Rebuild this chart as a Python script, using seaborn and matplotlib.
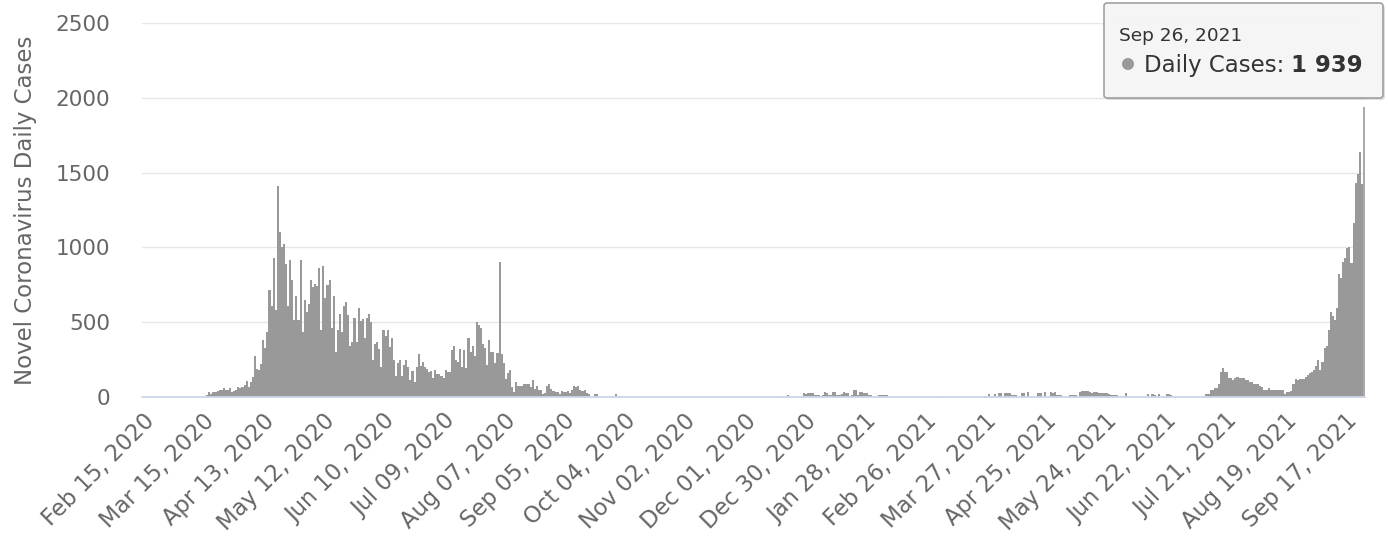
import numpy as np
import pandas as pd
import matplotlib
matplotlib.use('Agg')
import matplotlib.pyplot as plt
import seaborn as sns
from matplotlib.patches import FancyBboxPatch, Circle

# ── Daily cases, one list per month ────────────────────────────────────────
feb20 = [0, 0, 0, 0, 0, 0, 0, 0, 0, 0, 0, 0, 0, 0, 0]
mar20 = [0, 0, 0, 0, 0, 0, 0, 0, 0, 0, 0, 0, 0, 0, 0, 0,
         13, 31, 20, 33, 35, 40, 47, 45, 58, 47, 50, 60, 36, 38, 45]
apr20 = [69, 58, 69, 80, 109, 65, 102, 136, 274, 185, 180, 218, 381, 325, 432,
         715, 608, 931, 582, 1410, 1105, 1000, 1023, 889, 608, 916, 782, 515, 675, 515]
may20 = [916, 437, 648, 570, 622, 782, 733, 755, 742, 860, 448, 876, 664, 749, 782,
         459, 675, 303, 448, 555, 437, 608, 637, 548, 341, 370, 526, 370, 593, 510, 519]
jun20 = [392, 526, 555, 504, 247, 354, 370, 319, 203, 448, 408, 448, 336, 392, 247,
         140, 229, 247, 140, 214, 247, 203, 114, 176, 102, 203, 287, 207, 236, 203]
jul20 = [185, 169, 176, 125, 180, 154, 154, 140, 125, 180, 169, 166, 314, 341, 247,
         236, 319, 198, 314, 192, 392, 303, 341, 274, 503, 481, 461, 356, 327, 215, 383]
aug20 = [300, 298, 226, 293, 905, 289, 226, 119, 163, 181, 65, 36, 103, 74, 72,
         76, 87, 85, 88, 65, 114, 51, 74, 47, 45, 20, 30, 74, 87, 51, 42]
sep20 = [36, 34, 20, 42, 36, 35, 37, 29, 47, 74, 65, 74, 47, 42, 47,
         29, 20, 0, 0, 20, 20, 0, 0, 0, 0, 0, 0, 0, 0, 18]
oct20 = [0, 0, 0, 0, 0, 0, 0, 0, 0, 0, 0, 0, 0, 0, 0, 0,
         0, 0, 0, 0, 0, 0, 0, 0, 0, 0, 0, 0, 0, 0, 0]
nov20 = [0, 0, 0, 0, 0, 0, 0, 0, 0, 0, 0, 0, 0, 0, 0,
         0, 0, 0, 0, 0, 0, 0, 0, 0, 0, 0, 0, 0, 0, 0]
dec20 = [0, 0, 0, 0, 0, 0, 0, 0, 0, 0, 0, 0, 0, 0, 0, 0,
         10, 0, 0, 0, 0, 15, 0, 0, 0, 0, 0, 0, 0, 25, 22]
jan21 = [25, 24, 26, 15, 14, 16, 10, 12, 31, 29, 15, 14, 35, 33, 15, 16,
         20, 31, 25, 24, 10, 11, 47, 44, 15, 35, 33, 25, 24, 15, 14]
feb21 = [0, 0, 0, 15, 14, 16, 15, 13, 0, 0, 0, 0, 0, 0,
         0, 0, 0, 0, 0, 0, 0, 0, 0, 0, 0, 0, 0, 0]
mar21 = [0, 0, 0, 10, 0, 0, 0, 0, 0, 0, 0, 0, 0, 0, 0, 0,
         0, 0, 0, 0, 0, 0, 0, 0, 0, 0, 10, 0, 20, 0, 0]
apr21 = [20, 0, 25, 24, 0, 25, 26, 24, 15, 14, 16, 0, 0, 25, 24,
         0, 31, 0, 0, 0, 0, 25, 26, 0, 31, 0, 0, 31, 30, 32]
may21 = [15, 14, 16, 0, 0, 0, 15, 14, 16, 15, 0, 31, 42, 40, 43, 41,
         31, 30, 32, 31, 29, 25, 24, 26, 25, 23, 15, 14, 16, 15, 0]
jun21 = [0, 0, 25, 0, 0, 0, 0, 0, 0, 0, 0, 0, 0, 18, 0,
         18, 15, 0, 18, 0, 0, 0, 18, 18, 15, 0, 0, 0, 0, 0]
jul21 = [0, 0, 0, 0, 0, 0, 0, 0, 0, 0, 0, 20, 20, 47, 47, 62,
         60, 87, 169, 196, 169, 165, 129, 127, 114, 129, 131, 128, 130, 127, 114]
aug21 = [114, 102, 100, 87, 86, 88, 74, 65, 47, 46, 62, 47, 48, 46, 47, 47,
         45, 47, 22, 36, 35, 37, 89, 118, 116, 118, 119, 117, 136, 150, 158]
sep21 = [169, 180, 207, 247, 180, 236, 325, 341, 448, 570, 541, 515, 593,
         822, 793, 900, 927, 994, 1000, 898, 1165, 1433, 1491, 1640, 1424, 1939]

cases = (feb20 + mar20 + apr20 + may20 + jun20 + jul20 + aug20 + sep20 + oct20
         + nov20 + dec20 + jan21 + feb21 + mar21 + apr21 + may21 + jun21 + jul21
         + aug21 + sep21)
dates = pd.date_range('2020-02-15', periods=len(cases), freq='D')
df = pd.DataFrame({'day': np.arange(len(cases)), 'cases': cases})

tick_every = 29
y_ticks = [0, 500, 1000, 1500, 2000, 2500]

# ── Style ──────────────────────────────────────────────────────────────────
sns.set_theme(style='white')
plt.rcParams['font.family'] = ['DejaVu Sans']
GREY_TXT = '#666666'

W, H = 1388, 540
fig = plt.figure(figsize=(W / 100, H / 100), dpi=100)
ax = fig.add_axes([142 / W, 1 - 397 / H, (1365 - 142) / W, (397 - 23) / H])

sns.barplot(data=df, x='day', y='cases', color='#999999', saturation=1,
            width=1.0, native_scale=True, linewidth=0, errorbar=None, ax=ax)
# hovered point (last bar) is drawn a bit lighter
ax.patches[-1].set_facecolor('#aaaaaa')

ax.set_xlim(-0.5, len(cases) - 0.5)
ax.set_ylim(0, 2500)
ax.set_yticks(y_ticks)
ax.grid(axis='y', color='#e6e6e6', lw=1)
ax.grid(axis='x', visible=False)
ax.set_axisbelow(True)
for s in ax.spines.values():
    s.set_visible(False)
ax.axhline(0, color='#ccd6eb', lw=1.3, zorder=5, clip_on=False)

pos = list(range(0, len(cases), tick_every))
ax.set_xticks(pos)
ax.set_xticklabels([dates[p].strftime('%b %d, %Y') for p in pos],
                   rotation=45, ha='right', rotation_mode='anchor')
ax.tick_params(axis='x', length=0, pad=9, labelsize=16.3, labelcolor=GREY_TXT)
ax.tick_params(axis='y', length=0, pad=23, labelsize=15.5, labelcolor=GREY_TXT)
ax.set_xlabel('')
ax.set_ylabel('Novel Coronavirus Daily Cases', fontsize=16.5, color=GREY_TXT)
ax.yaxis.set_label_coords(-0.086, 0.5)

# ── Tooltip ────────────────────────────────────────────────────────────────
def px(x, y):
    return x / 100, (H - y) / 100

tx0, ty0 = px(1104, 98)
tw, th = (1383 - 1104) / 100, (98 - 3) / 100
shadow = FancyBboxPatch((tx0 + 0.02, ty0 - 0.02), tw, th,
                        boxstyle='round,pad=0,rounding_size=0.03',
                        transform=fig.dpi_scale_trans, facecolor='black',
                        edgecolor='none', alpha=0.12, zorder=9)
box = FancyBboxPatch((tx0, ty0), tw, th,
                     boxstyle='round,pad=0,rounding_size=0.03',
                     transform=fig.dpi_scale_trans, facecolor='#f7f7f7',
                     edgecolor='#999999', lw=1.2, alpha=0.92, zorder=10)
fig.add_artist(shadow)
fig.add_artist(box)
fig.add_artist(Circle(px(1128, 64), 0.06, transform=fig.dpi_scale_trans,
                      facecolor='#999999', edgecolor='none', zorder=11))
fig.text(*px(1119, 41), dates[-1].strftime('%b %d, %Y'), fontsize=13.3,
         color='#333333', va='baseline', ha='left', zorder=11,
         transform=fig.dpi_scale_trans)
fig.text(*px(1144, 72), 'Daily Cases: ', fontsize=16.5, color='#333333',
         va='baseline', ha='left', zorder=11, transform=fig.dpi_scale_trans)
fig.text(*px(1363, 72), f"{cases[-1]:,}".replace(',', ' '), fontsize=16.5,
         fontweight='bold', color='#333333', va='baseline', ha='right',
         zorder=11, transform=fig.dpi_scale_trans)

plt.savefig('out.png', dpi=100)
plt.close()
